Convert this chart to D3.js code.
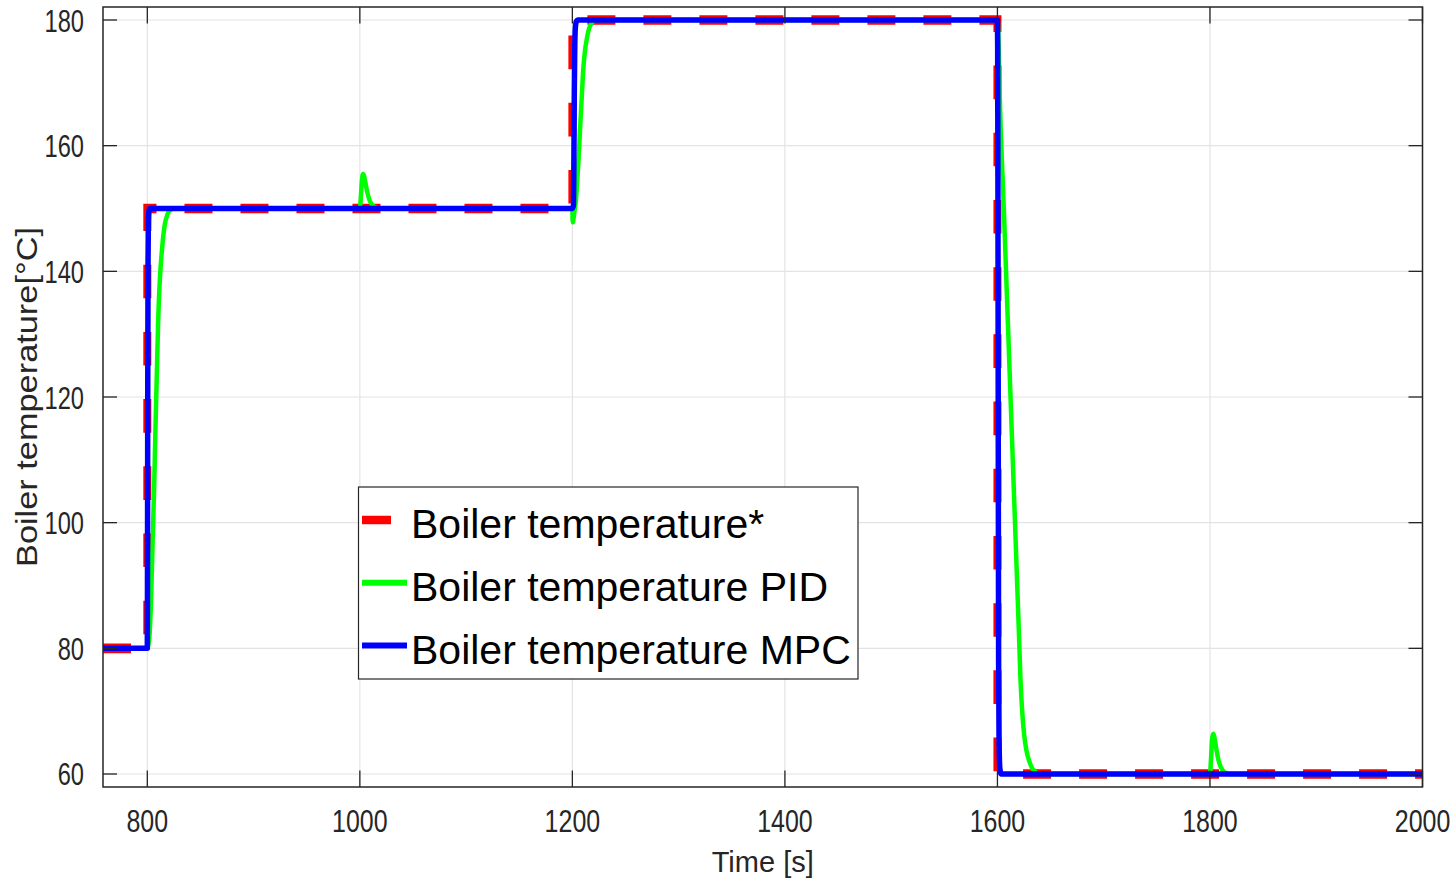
<!DOCTYPE html>
<html><head><meta charset="utf-8">
<script src="https://cdn.jsdelivr.net/npm/d3@7/dist/d3.min.js"></script>
<style>body{margin:0;background:#fff} svg{display:block}</style>
</head><body><svg id="c" width="1455" height="882"></svg>
<script>
// ---- data ----
const xTicks = [800, 1000, 1200, 1400, 1600, 1800, 2000];
const yTicks = [60, 80, 100, 120, 140, 160, 180];
const refTime = [758.3, 800, 800, 1200, 1200, 1600, 1600, 2000];
const refTemp = [80, 80, 150, 150, 180, 180, 60, 60];
const pidTime = [758.3, 800, 801, 802, 803.4, 805, 806.5, 807.5, 808.7, 810.2, 812, 813.4, 815, 816.5, 819, 822, 826,
  1000, 1001, 1002, 1003, 1004, 1005, 1007, 1009, 1012, 1016, 1020,
  1200, 1200.2, 1200.5, 1201, 1202, 1203.4, 1205, 1206.5, 1207.5, 1208.7, 1210.2, 1212, 1213.4, 1215, 1216.5, 1219, 1222,
  1600, 1600.5, 1601, 1602, 1606, 1610, 1614, 1618, 1620, 1621.7, 1623.5, 1625, 1627, 1630, 1633, 1637, 1642,
  1800, 1801, 1802, 1803, 1804, 1805, 1807, 1809, 1812, 1816, 1820, 2000];
const pidTemp = [80, 80, 80.5, 82, 87, 97, 106, 113.8, 122, 132, 139.3, 142.6, 145.6, 147.5, 149.1, 149.8, 150,
  150, 152, 154.5, 155.5, 155.2, 154.3, 152.6, 151.4, 150.5, 150.1, 150,
  150, 148.2, 147.8, 148.3, 149.6, 151.4, 155.5, 160, 163.5, 167.3, 172, 175.3, 176.8, 178.2, 179, 179.7, 180,
  180, 179.4, 177, 169, 150, 131, 112, 93, 83.5, 75, 69.5, 66.5, 64, 62, 60.8, 60.2, 60,
  60, 62.5, 65.5, 66.4, 66, 65, 63, 61.6, 60.6, 60.1, 60, 60];
const mpcTime = [758.3, 800, 800.15, 800.4, 800.7, 801, 801.6, 802.5,
  1200, 1201, 1201.4, 1201.8, 1202.2, 1202.8, 1203.8, 1205,
  1600, 1600.2, 1600.5, 1600.8, 1601.1, 1601.5, 1602.2, 1603.5, 2000];
const mpcTemp = [80, 80, 90, 120, 142, 148, 149.7, 150,
  150, 150.5, 157, 168, 175, 178.8, 179.8, 180,
  180, 176, 150, 110, 78, 66, 61, 60, 60];
const legendLabels = ["Boiler temperature*", "Boiler temperature PID", "Boiler temperature MPC"];
const seriesColors = ["#ff0000", "#00ff00", "#0000ff"];

// ---- layout ----
const L = 103, R = 1422.5, T = 7, B = 787;
const svg = d3.select("#c");
const x = d3.scaleLinear().domain([758.3, 2000]).range([L, R]);
const y = d3.scaleLinear().domain([57.93, 182.07]).range([B, T]);
const font = "'Liberation Sans', Arial, Helvetica, sans-serif";
const axisCol = "#262626";

svg.append("defs").append("clipPath").attr("id", "clip")
  .append("rect").attr("x", L).attr("y", T).attr("width", R - L).attr("height", B - T);

// grid
const grid = svg.append("g").attr("stroke", "#e3e3e3").attr("stroke-width", 1.2);
grid.selectAll(".gx").data(xTicks).join("line")
  .attr("x1", d => x(d)).attr("x2", d => x(d)).attr("y1", T).attr("y2", B);
grid.selectAll(".gy").data(yTicks).join("line")
  .attr("y1", d => y(d)).attr("y2", d => y(d)).attr("x1", L).attr("x2", R);

// data lines
const plot = svg.append("g").attr("clip-path", "url(#clip)");
const k = 1.2; // dash geometry of the reference (stretched vertically)
const yr = y.copy().range([B / k, T / k]);
const refData = refTime.map((t, i) => [t, refTemp[i]]);
plot.append("g").attr("transform", `scale(1,${k})`)
  .append("path").datum(refData)
  .attr("d", d3.line().x(d => x(d[0])).y(d => yr(d[1])))
  .attr("fill", "none").attr("stroke", seriesColors[0]).attr("stroke-width", 8)
  .attr("stroke-dasharray", "28 28").attr("stroke-linejoin", "miter");

const pidData = pidTime.map((t, i) => [t, pidTemp[i]]);
plot.append("path").datum(pidData)
  .attr("d", d3.line().x(d => x(d[0])).y(d => y(d[1])).curve(d3.curveMonotoneX))
  .attr("fill", "none").attr("stroke", seriesColors[1]).attr("stroke-width", 4.5)
  .attr("stroke-linejoin", "round");

const mpcData = mpcTime.map((t, i) => [t, mpcTemp[i]]);
plot.append("path").datum(mpcData)
  .attr("d", d3.line().x(d => x(d[0])).y(d => y(d[1])).curve(d3.curveMonotoneX))
  .attr("fill", "none").attr("stroke", seriesColors[2]).attr("stroke-width", 5.5)
  .attr("stroke-linejoin", "round");

// frame and ticks
svg.append("rect").attr("x", L).attr("y", T).attr("width", R - L).attr("height", B - T)
  .attr("fill", "none").attr("stroke", axisCol).attr("stroke-width", 1.5);
const tk = svg.append("g").attr("stroke", axisCol).attr("stroke-width", 1.3);
tk.selectAll(".tb").data(xTicks).join("line")
  .attr("x1", d => x(d)).attr("x2", d => x(d)).attr("y1", B).attr("y2", B - 16.5);
tk.selectAll(".tt").data(xTicks).join("line")
  .attr("x1", d => x(d)).attr("x2", d => x(d)).attr("y1", T).attr("y2", T + 16.5);
tk.selectAll(".tl").data(yTicks).join("line")
  .attr("y1", d => y(d)).attr("y2", d => y(d)).attr("x1", L).attr("x2", L + 14);
tk.selectAll(".tr").data(yTicks).join("line")
  .attr("y1", d => y(d)).attr("y2", d => y(d)).attr("x1", R).attr("x2", R - 14);

// tick labels
svg.append("g").selectAll("text").data(xTicks).join("text")
  .attr("transform", d => `translate(${x(d)},832) scale(0.78,1)`)
  .attr("text-anchor", "middle").attr("font-family", font).attr("font-size", 32)
  .attr("fill", axisCol).text(d => d);
svg.append("g").selectAll("text").data(yTicks).join("text")
  .attr("transform", d => `translate(84,${y(d) + 11.5}) scale(0.74,1)`)
  .attr("text-anchor", "end").attr("font-family", font).attr("font-size", 32)
  .attr("fill", axisCol).text(d => d);

// axis titles
svg.append("text").attr("x", (L + R) / 2).attr("y", 872).attr("text-anchor", "middle")
  .attr("font-family", font).attr("font-size", 29).attr("fill", axisCol).text("Time [s]");
svg.append("text").attr("transform", `translate(37,${(T + B) / 2}) rotate(-90)`)
  .attr("text-anchor", "middle").attr("font-family", font).attr("font-size", 30)
  .attr("textLength", 340).attr("lengthAdjust", "spacingAndGlyphs")
  .attr("fill", axisCol).text("Boiler temperature[°C]");

// legend
const lg = svg.append("g");
lg.append("rect").attr("x", 358.5).attr("y", 487).attr("width", 499.5).attr("height", 192)
  .attr("fill", "#fff").attr("stroke", axisCol).attr("stroke-width", 1.2);
const rows = lg.selectAll(".row").data(legendLabels).join("g")
  .attr("transform", (d, i) => `translate(0,${520 + i * 62.8})`);
rows.append("line").attr("x1", 362).attr("x2", (d, i) => i === 0 ? 391 : 407)
  .attr("y1", 0).attr("y2", 0)
  .attr("stroke", (d, i) => seriesColors[i]).attr("stroke-width", (d, i) => i === 0 ? 8.5 : 6);
rows.append("text").attr("x", 411).attr("y", 18).attr("font-family", font)
  .attr("font-size", 41).attr("fill", "#000").text(d => d);
</script></body></html>
